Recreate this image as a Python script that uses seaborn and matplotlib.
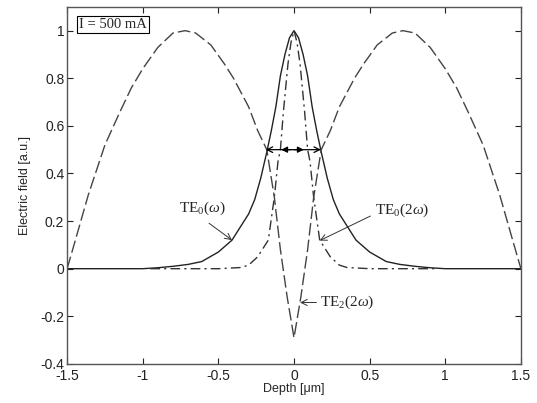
import numpy as np
import pandas as pd
import matplotlib
matplotlib.use("Agg")
import matplotlib.pyplot as plt
import seaborn as sns

# TE0(omega): solid, symmetric about 0 (values for x >= 0)
te0w_x = [0.0, 0.03, 0.06, 0.09, 0.12, 0.15, 0.18, 0.22, 0.26, 0.30, 0.36, 0.41, 0.50, 0.61, 0.70, 0.80, 0.90, 1.00, 1.50]
te0w_y = [1.0, 0.97, 0.90, 0.81, 0.68, 0.58, 0.49, 0.38, 0.29, 0.23, 0.17, 0.12, 0.07, 0.03, 0.018, 0.01, 0.004, 0.0, 0.0]

# TE0(2 omega): dash-dot
te02w_x = [0.0, 0.02, 0.04, 0.07, 0.09, 0.106, 0.13, 0.17, 0.24, 0.30, 0.35, 0.50, 0.95]
te02w_y = [1.0, 0.95, 0.86, 0.66, 0.50, 0.45, 0.30, 0.12, 0.05, 0.015, 0.005, 0.0, 0.0]

# TE2(2 omega): dashed
te22w_x = [0.0, 0.045, 0.09, 0.13, 0.16, 0.18, 0.24, 0.30, 0.40, 0.46, 0.55, 0.65, 0.72, 0.80, 0.90, 1.00, 1.075, 1.15, 1.25, 1.36, 1.45, 1.50]
te22w_y = [-0.29, -0.12, 0.08, 0.30, 0.42, 0.50, 0.58, 0.68, 0.80, 0.86, 0.94, 0.99, 1.0, 0.99, 0.93, 0.84, 0.76, 0.66, 0.52, 0.31, 0.11, 0.0]

x_ticks = [-1.5, -1, -0.5, 0, 0.5, 1, 1.5]
x_ticklabels = ["-1.5", "-1", "-0.5", "0", "0.5", "1", "1.5"]
y_ticks = [-0.4, -0.2, 0, 0.2, 0.4, 0.6, 0.8, 1]
y_ticklabels = ["-0.4", "-0.2", "0", "0.2", "0.4", "0.6", "0.8", "1"]


def mirror(xs, ys):
    xs = np.asarray(xs, float)
    ys = np.asarray(ys, float)
    x = np.concatenate([-xs[::-1], xs[1:]])
    y = np.concatenate([ys[::-1], ys[1:]])
    return x, y


sns.set_style("ticks")
plt.rcParams["font.family"] = ["Liberation Sans", "DejaVu Sans"]
plt.rcParams["mathtext.fontset"] = "custom"
plt.rcParams["mathtext.rm"] = "Liberation Serif"
plt.rcParams["mathtext.it"] = "Liberation Serif:italic"

fig = plt.figure(figsize=(5.37, 4.03), dpi=100)
ax = fig.add_axes([0.125, 0.097, 0.845, 0.886])

frames = []
for name, xs, ys in [("TE0w", te0w_x, te0w_y), ("TE02w", te02w_x, te02w_y), ("TE22w", te22w_x, te22w_y)]:
    x, y = mirror(xs, ys)
    frames.append(pd.DataFrame({"x": x, "y": y, "mode": name}))
df = pd.concat(frames, ignore_index=True)

sns.lineplot(data=df[df["mode"] == "TE0w"], x="x", y="y", ax=ax, color="#222222", lw=1.0, sort=False)
sns.lineplot(data=df[df["mode"] == "TE02w"], x="x", y="y", ax=ax, color="#333333", lw=1.0,
             linestyle=(0, (7, 3, 1.5, 3)), sort=False)
sns.lineplot(data=df[df["mode"] == "TE22w"], x="x", y="y", ax=ax, color="#444444", lw=1.0,
             linestyle=(0, (9, 3)), sort=False)

ax.set_xlim(-1.5, 1.5)
ax.set_ylim(-0.4, 1.1)
ax.set_xticks(x_ticks)
ax.set_xticklabels(x_ticklabels)
ax.set_yticks(y_ticks)
ax.set_yticklabels(y_ticklabels)
ax.tick_params(direction="in", length=4, width=0.8, top=True, right=True, labelsize=10, pad=2, colors="#222222")
ax.tick_params(axis="x", pad=4)
for s in ax.spines.values():
    s.set_color("#555555")
    s.set_linewidth(1.0)
ax.set_xlabel("Depth [\u03bcm]", fontsize=9, labelpad=0)
ax.set_ylabel("Electric field [a.u.]", fontsize=9, labelpad=7)

serif = "Liberation Serif"
ax.text(-1.196, 1.025, "I = 500 mA", family=serif, fontsize=10.5, ha="center", va="center",
        bbox=dict(boxstyle="square,pad=0.15", fc="white", ec="black", lw=0.8))

# FWHM arrow
ax.annotate("", xy=(-0.187, 0.5), xytext=(0.178, 0.5),
            arrowprops=dict(arrowstyle="<->", lw=0.9, color="black", shrinkA=0, shrinkB=0))
ax.annotate("", xy=(-0.085, 0.5), xytext=(-0.02, 0.5),
            arrowprops=dict(arrowstyle="-|>", lw=0.9, color="black", shrinkA=0, shrinkB=0, mutation_scale=9))
ax.annotate("", xy=(0.065, 0.5), xytext=(0.0, 0.5),
            arrowprops=dict(arrowstyle="-|>", lw=0.9, color="black", shrinkA=0, shrinkB=0, mutation_scale=9))

ax.annotate(r"$\mathrm{TE}_0(\omega)$", xy=(-0.41, 0.12), xytext=(-0.76, 0.255),
            fontsize=11, ha="left", va="center",
            arrowprops=dict(arrowstyle="->", lw=0.7, color="#333333", shrinkA=4, shrinkB=0,
                            relpos=(0.45, 0.0)))
ax.annotate(r"$\mathrm{TE}_0(2\omega)$", xy=(0.17, 0.118), xytext=(0.535, 0.245),
            fontsize=11, ha="left", va="center",
            arrowprops=dict(arrowstyle="->", lw=0.7, color="#333333", shrinkA=1, shrinkB=0,
                            relpos=(0.0, 0.3)))
ax.annotate(r"$\mathrm{TE}_2(2\omega)$", xy=(0.04, -0.142), xytext=(0.17, -0.142),
            fontsize=11, ha="left", va="center",
            arrowprops=dict(arrowstyle="->", lw=0.7, color="#333333", shrinkA=0, shrinkB=0,
                            relpos=(0.0, 0.5)))

fig.savefig("out.png", dpi=100)
